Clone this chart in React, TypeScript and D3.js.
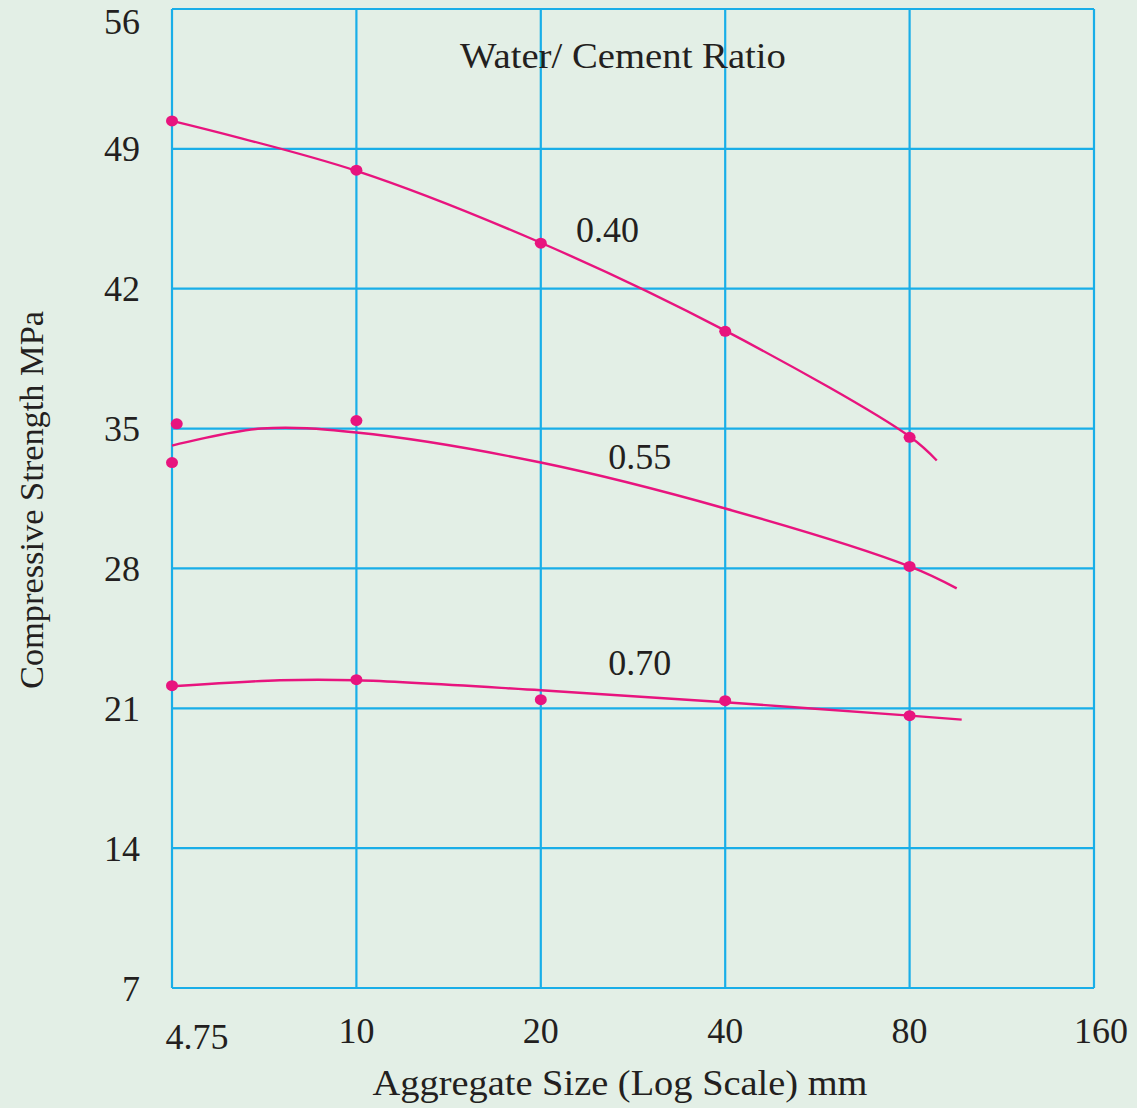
import React from "react";
import * as d3 from "d3";

// x positions are on a log2 grid; the first column (labelled 4.75) sits at 5
const xTickValues = [5, 10, 20, 40, 80, 160];
const xTickLabels = ["4.75", "10", "20", "40", "80", "160"];
const yTickValues = [7, 14, 21, 28, 35, 42, 49, 56];

// fitted curves (size mm, strength MPa)
const curve040 = [
  [5, 50.4], [10, 47.9], [20, 44.3], [40, 39.9], [80, 34.6], [88.6, 33.4],
];
const curve055 = [
  [5, 34.15], [7.0, 35.0], [10, 34.8], [20, 33.3], [40, 31.0], [80, 28.1], [95.5, 27.0],
];
const curve070 = [
  [5, 22.1], [7.5, 22.4], [10, 22.4], [20, 21.9], [40, 21.3], [80, 20.63], [97.3, 20.43],
];

// measured points
const points040 = [
  [5, 50.4], [10, 47.93], [20, 44.28], [40, 39.87], [80, 34.56],
];
const points055 = [
  [5, 33.3], [5.09, 35.24], [10, 35.4], [80, 28.1],
];
const points070 = [
  [5, 22.13], [10, 22.43], [20, 21.43], [40, 21.38], [80, 20.63],
];

const ratioLabels = ["0.40", "0.55", "0.70"];
const labelSizes = [25.7, 29.0, 29.0];
const labelStrengths = [44.33, 33.0, 22.68];

const App = () => {
  const width = 1137;
  const height = 1108;
  const left = 172;
  const right = 1094;
  const top = 9;
  const bottom = 988;

  const x = d3.scaleLog().base(2).domain([5, 160]).range([left, right]);
  const y = d3.scaleLinear().domain([7, 56]).range([bottom, top]);

  const grid = "#19aee8";
  const pink = "#e8147e";
  const font = "'Liberation Serif', 'Times New Roman', serif";
  const textColor = "#231f20";

  const line = d3
    .line<number[]>()
    .x((d) => x(d[0]))
    .y((d) => y(d[1]))
    .curve(d3.curveCatmullRom.alpha(0.5));

  const curves = [curve040, curve055, curve070];
  const points = [points040, points055, points070];

  return (
    <svg
      width={width}
      height={height}
      style={{ position: "absolute", left: 0, top: 0, display: "block" }}
    >
      <rect x={0} y={0} width={width} height={height} fill="#e3efe6" />

      {/* grid */}
      {yTickValues.map((v) => (
        <line
          key={"h" + v}
          x1={left}
          x2={right}
          y1={y(v)}
          y2={y(v)}
          stroke={grid}
          strokeWidth={2.2}
        />
      ))}
      {xTickValues.map((v) => (
        <line
          key={"v" + v}
          x1={x(v)}
          x2={x(v)}
          y1={top}
          y2={bottom}
          stroke={grid}
          strokeWidth={2.2}
        />
      ))}

      {/* y tick labels */}
      {yTickValues.map((v) => (
        <text
          key={"yl" + v}
          x={140}
          y={y(v)}
          dy={v === 56 ? "0.7em" : "0.35em"}
          textAnchor="end"
          fontFamily={font}
          fontSize={36}
          fill={textColor}
        >
          {v}
        </text>
      ))}

      {/* x tick labels */}
      {xTickValues.map((v, i) => (
        <text
          key={"xl" + v}
          x={x(v) + (i === 0 ? 25 : i === 5 ? 7 : 0)}
          y={i === 0 ? 1049 : 1043}
          textAnchor="middle"
          fontFamily={font}
          fontSize={36}
          fill={textColor}
        >
          {xTickLabels[i]}
        </text>
      ))}

      {/* curves */}
      {curves.map((c, i) => (
        <path
          key={"c" + i}
          d={line(c) || ""}
          fill="none"
          stroke={pink}
          strokeWidth={2.4}
        />
      ))}

      {/* points */}
      {points.map((ps, i) =>
        ps.map((p, j) => (
          <ellipse
            key={"p" + i + "-" + j}
            cx={x(p[0])}
            cy={y(p[1])}
            rx={6}
            ry={5.5}
            fill={pink}
          />
        ))
      )}

      {/* ratio labels */}
      {ratioLabels.map((l, i) => (
        <text
          key={"rl" + l}
          x={x(labelSizes[i])}
          y={y(labelStrengths[i])}
          textAnchor="middle"
          fontFamily={font}
          fontSize={36}
          fill={textColor}
        >
          {l}
        </text>
      ))}

      <text
        x={623}
        y={68}
        textAnchor="middle"
        fontFamily={font}
        fontSize={35}
        textLength={326}
        lengthAdjust="spacingAndGlyphs"
        fill={textColor}
      >
        Water/ Cement Ratio
      </text>

      <text
        x={620}
        y={1095}
        textAnchor="middle"
        fontFamily={font}
        fontSize={35}
        textLength={495}
        lengthAdjust="spacingAndGlyphs"
        fill={textColor}
      >
        Aggregate Size (Log Scale) mm
      </text>

      <text
        transform={`translate(43, 500) rotate(-90)`}
        textAnchor="middle"
        fontFamily={font}
        fontSize={34}
        textLength={378}
        lengthAdjust="spacingAndGlyphs"
        fill={textColor}
      >
        Compressive Strength MPa
      </text>
    </svg>
  );
};

export default App;
